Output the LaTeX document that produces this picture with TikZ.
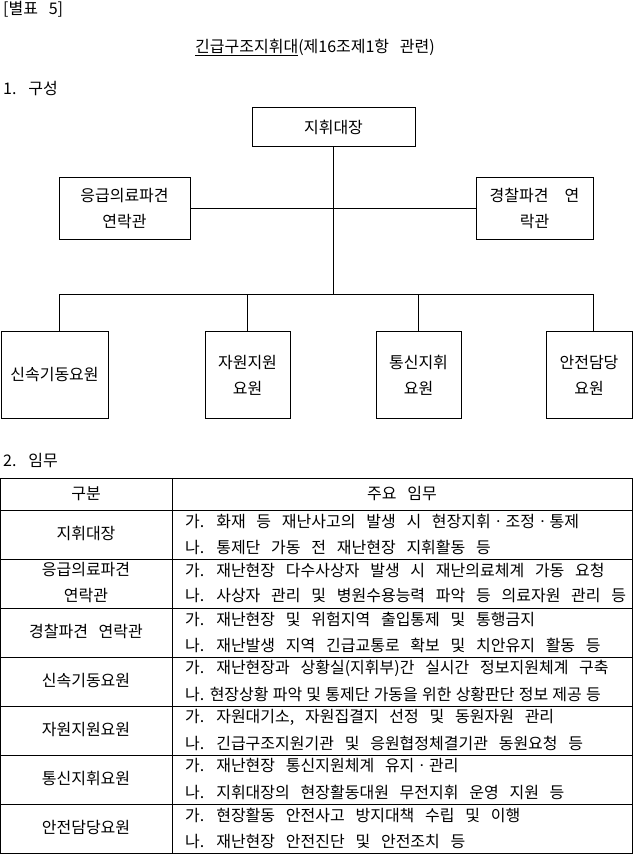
\documentclass[tikz,border=0pt]{standalone}
\usepackage{fontspec}
\setmainfont{Noto Sans CJK KR}[WordSpace=3.0]
\usetikzlibrary{positioning}

\tikzset{
  orgbox/.style={draw, line width=0.8pt, align=center, inner sep=0pt},
  dutytext/.style={anchor=west, inner sep=0pt},
  rowtext/.style={align=center, inner sep=0pt},
  rule/.style={line width=0.8pt}
}

\begin{document}
\begin{tikzpicture}[x=1pt, y=-1pt, every node/.style={font=\fontsize{16}{26}\selectfont}]
  \useasboundingbox (0,0) rectangle (633,854);

  % Headings
  \node[anchor=west, inner sep=0pt] (annex) at (3,9) {[별표 5]};
  \node[inner sep=0pt] (title) at (315,47) {\underline{긴급구조지휘대}(제16조제1항 관련)};
  \node[anchor=west, inner sep=0pt] (partA) at (3,89) {1. 구성};

  % Organisation chart
  \node[orgbox, minimum width=163pt, minimum height=39pt] (chief) at (333.5,127) {지휘대장};
  \node[orgbox, minimum width=131pt, minimum height=62pt] (medic) at (124.5,208) {응급의료파견\\연락관};
  \node[orgbox, minimum width=117pt, minimum height=62pt] (police) at (534.5,208) {경찰파견\quad 연\\락관};

  \node[orgbox, minimum width=107pt, minimum height=87pt] (rapid) at (54.5,375) {신속기동요원};
  \node[orgbox, minimum width=85pt, minimum height=87pt] (resource) at (247.5,375) {자원지원\\요원};
  \node[orgbox, minimum width=85pt, minimum height=87pt] (comm) at (418.5,375) {통신지휘\\요원};
  \node[orgbox, minimum width=86pt, minimum height=87pt] (safety) at (589,375) {안전담당\\요원};

  \coordinate (bus) at (333.5,294);
  \coordinate (busW) at (59.5,294);
  \coordinate (busE) at (593,294);

  \draw[rule] (chief.south) -- (bus);
  \draw[rule] (medic.east) -- (police.west);
  \draw[rule] (busW) -- (busE);
  \draw[rule] (busW) -- (busW |- rapid.north);
  \draw[rule] (busE) -- (busE |- safety.north);
  \draw[rule] (resource.north) -- (resource.north |- bus);
  \draw[rule] (comm.north) -- (comm.north |- bus);

  % Duties table
  \node[anchor=west, inner sep=0pt] (partB) at (3,461) {2. 임무};

  \draw[rule] (0.5,478) rectangle (632,853);
  \draw[rule] (172,478) -- (172,853);
  \draw[rule] (0.5,510) -- (632,510);
  \draw[rule] (0.5,559) -- (632,559);
  \draw[rule] (0.5,608) -- (632,608);
  \draw[rule] (0.5,657) -- (632,657);
  \draw[rule] (0.5,706) -- (632,706);
  \draw[rule] (0.5,755) -- (632,755);
  \draw[rule] (0.5,804) -- (632,804);

  \node[rowtext] (hdrUnit) at (86,494) {구분};
  \node[rowtext] (hdrDuty) at (402,494) {주요 임무};

  \node[rowtext] (cmdName) at (86,533) {지휘대장};
  \node[dutytext] (cmdA) at (185,521) {가. 화재 등 재난사고의 발생 시 현장지휘ㆍ조정ㆍ통제};
  \node[dutytext] (cmdB) at (185,547) {나. 통제단 가동 전 재난현장 지휘활동 등};

  \node[rowtext] (medName) at (86,582) {응급의료파견\\연락관};
  \node[dutytext] (medA) at (185,570) {가. 재난현장 다수사상자 발생 시 재난의료체계 가동 요청};
  \node[dutytext] (medB) at (185,596) {나. 사상자 관리 및 병원수용능력 파악 등 의료자원 관리 등};

  \node[rowtext] (polName) at (86,631) {경찰파견 연락관};
  \node[dutytext] (polA) at (185,619) {가. 재난현장 및 위험지역 출입통제 및 통행금지};
  \node[dutytext] (polB) at (185,645) {나. 재난발생 지역 긴급교통로 확보 및 치안유지 활동 등};

  \node[rowtext] (rapName) at (86,680) {신속기동요원};
  \node[dutytext] (rapA) at (185,668) {가. 재난현장과 상황실(지휘부)간 실시간 정보지원체계 구축};
  \node[dutytext] (rapB) at (185,694) {\spaceskip=4.2pt 나. 현장상황 파악 및 통제단 가동을 위한 상황판단 정보 제공 등};

  \node[rowtext] (resName) at (86,729) {자원지원요원};
  \node[dutytext] (resA) at (185,717) {가. 자원대기소, 자원집결지 선정 및 동원자원 관리};
  \node[dutytext] (resB) at (185,743) {나. 긴급구조지원기관 및 응원협정체결기관 동원요청 등};

  \node[rowtext] (comName) at (86,778) {통신지휘요원};
  \node[dutytext] (comA) at (185,766) {가. 재난현장 통신지원체계 유지ㆍ관리};
  \node[dutytext] (comB) at (185,792) {나. 지휘대장의 현장활동대원 무전지휘 운영 지원 등};

  \node[rowtext] (safName) at (86,827) {안전담당요원};
  \node[dutytext] (safA) at (185,815) {가. 현장활동 안전사고 방지대책 수립 및 이행};
  \node[dutytext] (safB) at (185,841) {나. 재난현장 안전진단 및 안전조치 등};
\end{tikzpicture}
\end{document}
